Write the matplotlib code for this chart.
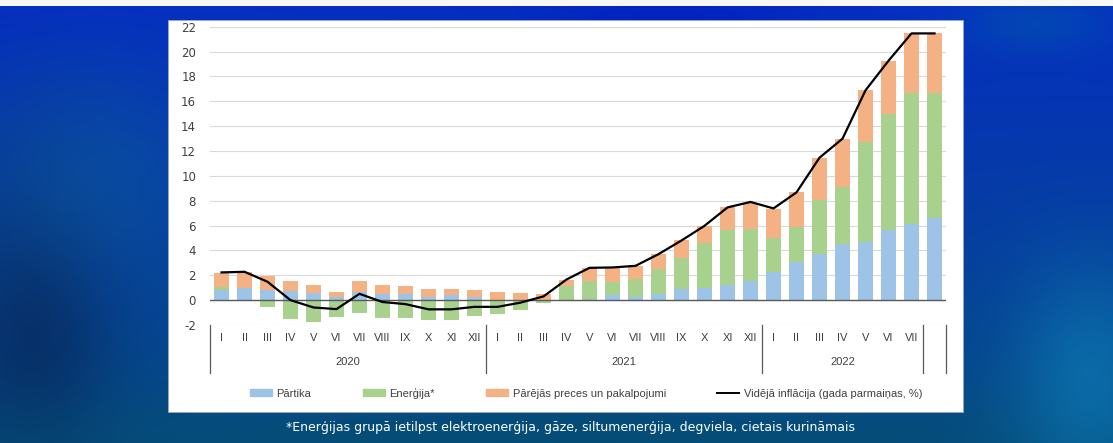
import numpy as np
import matplotlib.pyplot as plt
from matplotlib.patches import Rectangle, Patch
from matplotlib.lines import Line2D

plt.rcParams['axes.unicode_minus'] = False

# data (percent points)
months = ['I', 'II', 'III', 'IV', 'V', 'VI', 'VII', 'VIII', 'IX', 'X', 'XI', 'XII',
          'I', 'II', 'III', 'IV', 'V', 'VI', 'VII', 'VIII', 'IX', 'X', 'XI', 'XII',
          'I', 'II', 'III', 'IV', 'V', 'VI', 'VII', '']
years = ['2020', '2021', '2022', '']
year_bounds = [0, 12, 24, 31, 32]

partika = [0.78, 1.0, 0.78, 0.7, 0.56, 0.24, 0.62, 0.46, 0.51, 0.27, 0.4, 0.27,
           0.05, 0.03, 0.05, 0.03, 0.1, 0.43, 0.27, 0.51, 0.86, 0.99, 1.18, 1.53,
           2.23, 3.06, 3.73, 4.48, 4.67, 5.63, 6.14, 6.6]
energija = [0.27, 0.0, -0.54, -1.53, -1.74, -1.37, -1.02, -1.42, -1.42, -1.6, -1.56, -1.29,
            -1.15, -0.8, -0.25, 1.12, 1.46, 1.02, 1.47, 1.99, 2.57, 3.62, 4.45, 4.16,
            2.73, 2.79, 4.29, 4.64, 8.02, 9.34, 10.52, 10.06]
parejas = [1.15, 1.28, 1.15, 0.83, 0.62, 0.4, 0.91, 0.72, 0.62, 0.64, 0.46, 0.51,
           0.6, 0.53, 0.42, 0.51, 0.99, 1.18, 1.02, 1.2, 1.37, 1.37, 1.83, 2.09,
           2.39, 2.82, 3.44, 3.87, 4.19, 4.29, 4.8, 4.8]
inflacija = [2.23, 2.28, 1.48, 0.0, -0.59, -0.72, 0.51, -0.15, -0.32, -0.74, -0.74, -0.54,
             -0.54, -0.2, 0.3, 1.66, 2.6, 2.63, 2.76, 3.7, 4.8, 5.98, 7.46, 7.9,
             7.38, 8.67, 11.46, 12.99, 16.88, 19.26, 21.46, 21.46]

W, H = 1113, 443
fig = plt.figure(figsize=(W / 100, H / 100), dpi=100)

# blue backdrop
yy, xx = np.mgrid[0:H, 0:W] / np.array([H, W])[:, None, None]
img = np.zeros((H, W, 3))
img[..., 0] = 0.02
img[..., 1] = 0.18 + 0.12 * yy
img[..., 2] = 0.76 - 0.25 * yy
def blob(cx, cy, sx, sy, col, a):
    g = np.exp(-((xx - cx) ** 2 / (2 * sx ** 2) + (yy - cy) ** 2 / (2 * sy ** 2)))[..., None]
    return g * a, np.array(col)
for cx, cy, sx, sy, col, a in [(0.03, 0.72, 0.05, 0.25, (0.03, 0.14, 0.33), 0.7),
                               (0.08, 0.4, 0.08, 0.18, (0.05, 0.36, 0.62), 0.5),
                               (0.5, 1.0, 0.35, 0.08, (0.02, 0.3, 0.45), 0.8),
                               (0.98, 0.85, 0.05, 0.18, (0.05, 0.47, 0.7), 0.7),
                               (0.6, 0.05, 0.08, 0.05, (0.0, 0.1, 0.75), 0.6),
                               (0.93, 0.05, 0.05, 0.05, (0.0, 0.4, 0.65), 0.4)]:
    g, c = blob(cx, cy, sx, sy, col, a)
    img = img * (1 - g) + c * g
img[:6] = 0.97
bg = fig.add_axes([0, 0, 1, 1], zorder=-1)
bg.imshow(img, aspect='auto', extent=[0, 1, 0, 1])
# white panel
bg.add_patch(Rectangle((168 / W, (H - 412) / H), (963 - 168) / W, (412 - 20) / H,
                       facecolor='white', edgecolor='#9aa6c8', lw=0.6))
bg.set_xlim(0, 1)
bg.set_ylim(0, 1)
bg.axis('off')

ax = fig.add_axes([210 / W, (H - 325) / H, (946 - 210) / W, (325 - 26.7) / H])
ax.set_facecolor('none')

x = np.arange(len(months))
p = np.array(partika)
e = np.array(energija)
o = np.array(parejas)
e_bottom = np.where(e >= 0, p, 0)
o_bottom = p + np.clip(e, 0, None)

bw = 0.65
ax.bar(x, p, bw, color='#9dc3e6', zorder=2)
ax.bar(x, e, bw, bottom=e_bottom, color='#a9d18e', zorder=2)
ax.bar(x, o, bw, bottom=o_bottom, color='#f4b183', zorder=2)
ax.axhline(0, color='#595959', lw=1, zorder=3)
ax.plot(x, inflacija, color='black', lw=1.6, zorder=4)

ax.set_xlim(-0.5, len(months) - 0.5)
ax.set_ylim(-2, 22)
ax.set_yticks(range(-2, 23, 2))
ax.yaxis.grid(True, color='#d9d9d9', lw=0.8, zorder=0)
ax.set_axisbelow(True)
ax.tick_params(axis='y', length=0, labelsize=8.5, labelcolor='#404040', pad=10)
ax.set_xticks([])
for s in ax.spines.values():
    s.set_visible(False)

# two level category axis
trans = ax.get_xaxis_transform()
for i, m in enumerate(months):
    ax.text(i, -0.044, m, transform=trans, ha='center', va='center', fontsize=8,
            color='#404040', family='Liberation Sans')
for k, yr in enumerate(years):
    mid = (year_bounds[k] + year_bounds[k + 1]) / 2 - 0.5
    ax.text(mid, -0.125, yr, transform=trans, ha='center', va='center', fontsize=8,
            color='#404040', family='Liberation Sans')
for b in year_bounds:
    ax.add_line(Line2D([b - 0.5, b - 0.5], [0, -0.16], transform=trans, color='#595959',
                       lw=0.9, clip_on=False))

handles = [Patch(color='#9dc3e6'), Patch(color='#a9d18e'), Patch(color='#f4b183'),
           Line2D([], [], color='black', lw=1.4)]
labels = ['Pārtika', 'Enerģija*', 'Pārējās preces un pakalpojumi',
          'Vidējā inflācija (gada parmaiņas, %)']
fig.legend(handles, labels, loc='center', bbox_to_anchor=(586 / W, (H - 393) / H), ncol=4,
           frameon=False, handlelength=2.0, handleheight=0.6, handletextpad=0.4,
           columnspacing=4.6, labelcolor='#404040', prop={'family': 'Liberation Sans', 'size': 8})

fig.text(570 / W, (H - 428) / H,
         '*Enerģijas grupā ietilpst elektroenerģija, gāze, siltumenerģija, degviela, cietais kurināmais',
         ha='center', va='center', color='white', fontsize=9, family='DejaVu Sans')

fig.savefig('out.png', dpi=100)
